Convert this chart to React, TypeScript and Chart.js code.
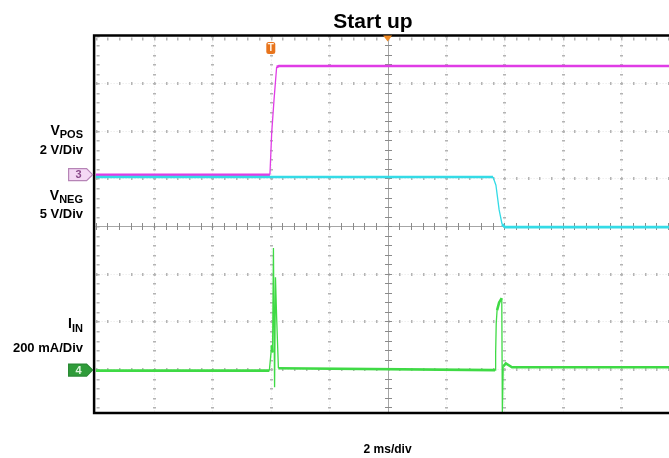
import { useEffect, useRef } from 'react';
import { Chart, registerables } from 'chart.js';

Chart.register(...registerables);

// ---------- data (x in ms from screen centre, y in graticule divisions from centre) ----------
const vposTimeMs = [-10, -4.03, -3.97, -3.89, -3.8, -3.72, 10];
const vposDiv = [1.08, 1.08, 1.95, 2.65, 3.34, 3.36, 3.36];

const vnegTimeMs = [-10, 3.61, 3.71, 3.82, 3.92, 4.02, 10];
const vnegDiv = [1.03, 1.03, 0.86, 0.34, 0.04, -0.02, -0.02];

const iinTimeMs = [
  -10, -4.05, -3.97, -3.94, -3.91, -3.87, -3.84, -3.8, -3.74, 3.68, 3.7, 3.72, 3.75, 3.82, 3.91, 3.93,
  3.96, 4.05, 4.26, 10,
];
const iinDiv = [
  -3.03, -3.03, -2.5, -2.65, -0.46, -3.38, -1.07, -1.91, -2.98, -3.02, -2.67, -2.04, -1.76, -1.6, -1.51,
  -3.93, -2.94, -2.88, -2.96, -2.96,
];

// channel reference levels (divisions) and trigger time (ms)
const ch3LevelDiv = 1.08;
const ch4LevelDiv = -3.02;
const triggerMs = -4.0;

// graticule
const xGridMs = [-8, -6, -4, -2, 0, 2, 4, 6, 8];
const yGridDiv = [-3, -2, -1, 0, 1, 2, 3];
const xSubStepMs = 0.4;
const ySubStepDiv = 0.2;

const FONT = "'Liberation Sans', Arial, Helvetica, sans-serif";
const MAGENTA = '#e03ce6';
const CYAN = '#34dbe6';
const GREEN = '#3fda45';

const toPoints = (xs: number[], ys: number[]) => xs.map((x, i) => ({ x, y: ys[i] }));

const steepWidth = (ctx: any) => (Math.abs(ctx.p1.y - ctx.p0.y) > 8 ? 1.3 : 2.6);

const graticule = {
  id: 'graticule',
  beforeDatasetsDraw(chart: any) {
    const { ctx, chartArea: a, scales } = chart;
    const x = scales.x;
    const y = scales.y;
    ctx.save();
    // faint dotted grid lines
    ctx.strokeStyle = '#e6e6e6';
    ctx.lineWidth = 1;
    ctx.setLineDash([1, 2]);
    for (const t of xGridMs) {
      if (t === 0) continue;
      const px = Math.round(x.getPixelForValue(t)) + 0.5;
      ctx.beginPath();
      ctx.moveTo(px, a.top);
      ctx.lineTo(px, a.bottom);
      ctx.stroke();
    }
    for (const d of yGridDiv) {
      if (d === 0) continue;
      const py = Math.round(y.getPixelForValue(d)) + 0.5;
      ctx.beginPath();
      ctx.moveTo(a.left, py);
      ctx.lineTo(a.right, py);
      ctx.stroke();
    }
    ctx.setLineDash([]);
    // subdivision marks on grid lines
    ctx.fillStyle = '#b4b4b4';
    const yMinK = Math.ceil(y.min / ySubStepDiv);
    const yMaxK = Math.floor(y.max / ySubStepDiv);
    const xMinK = Math.ceil(x.min / xSubStepMs);
    const xMaxK = Math.floor(x.max / xSubStepMs);
    for (const t of xGridMs) {
      if (t === 0) continue;
      const px = Math.round(x.getPixelForValue(t));
      for (let k = yMinK; k <= yMaxK; k++) {
        const py = Math.round(y.getPixelForValue(k * ySubStepDiv));
        ctx.fillRect(px - 1, py, 3, 1.5);
      }
    }
    for (const d of yGridDiv) {
      if (d === 0) continue;
      const py = Math.round(y.getPixelForValue(d));
      for (let k = xMinK; k <= xMaxK; k++) {
        const px = Math.round(x.getPixelForValue(k * xSubStepMs));
        ctx.fillRect(px, py - 1, 1.5, 3);
      }
    }
    // marks along top edge and left edge
    for (let k = xMinK; k <= xMaxK; k++) {
      const px = Math.round(x.getPixelForValue(k * xSubStepMs));
      ctx.fillRect(px, a.top + 2, 1.5, 3);
    }
    for (let k = yMinK; k <= yMaxK; k++) {
      const py = Math.round(y.getPixelForValue(k * ySubStepDiv));
      ctx.fillRect(a.left + 1, py, 3, 1.5);
    }
    // centre axes
    const cx = Math.round(x.getPixelForValue(0)) + 0.5;
    const cy = Math.round(y.getPixelForValue(0)) + 0.5;
    ctx.strokeStyle = '#a6a6a6';
    ctx.lineWidth = 1;
    ctx.beginPath();
    ctx.moveTo(cx, a.top);
    ctx.lineTo(cx, a.bottom);
    ctx.moveTo(a.left, cy);
    ctx.lineTo(a.right, cy);
    ctx.stroke();
    ctx.strokeStyle = '#8a8a8a';
    ctx.beginPath();
    for (let k = xMinK; k <= xMaxK; k++) {
      const px = Math.round(x.getPixelForValue(k * xSubStepMs)) + 0.5;
      ctx.moveTo(px, cy - 3.5);
      ctx.lineTo(px, cy + 3.5);
    }
    for (let k = yMinK; k <= yMaxK; k++) {
      const py = Math.round(y.getPixelForValue(k * ySubStepDiv)) + 0.5;
      ctx.moveTo(cx - 3.5, py);
      ctx.lineTo(cx + 3.5, py);
    }
    ctx.stroke();
    ctx.restore();
  },
  afterDatasetsDraw(chart: any) {
    const { ctx, chartArea: a, scales } = chart;
    const x = scales.x;
    const y = scales.y;
    ctx.save();
    // frame
    ctx.strokeStyle = '#000';
    ctx.lineWidth = 2.5;
    ctx.beginPath();
    ctx.moveTo(a.right + 20, a.top);
    ctx.lineTo(a.left - 1.5, a.top);
    ctx.lineTo(a.left - 1.5, a.bottom);
    ctx.lineTo(a.right + 20, a.bottom);
    ctx.stroke();

    // trigger position triangle (top centre)
    const cx = x.getPixelForValue(0);
    ctx.fillStyle = '#f08a24';
    ctx.beginPath();
    ctx.moveTo(cx - 4.5, a.top);
    ctx.lineTo(cx + 4.5, a.top);
    ctx.lineTo(cx, a.top + 6);
    ctx.closePath();
    ctx.fill();

    // trigger "T" marker
    const tx = x.getPixelForValue(triggerMs);
    ctx.fillStyle = '#e8741c';
    ctx.beginPath();
    (ctx as any).roundRect(tx - 4.5, a.top + 6.5, 9, 12, 2.5);
    ctx.fill();
    ctx.fillStyle = '#fff3e6';
    ctx.font = `bold 10px ${FONT}`;
    ctx.textAlign = 'center';
    ctx.textBaseline = 'middle';
    ctx.fillText('T', tx, a.top + 13);

    // channel markers
    const drawMarker = (label: string, level: number, fill: string, stroke: string, text: string) => {
      const py = y.getPixelForValue(level);
      const l = a.left - 27;
      const r = a.left - 9;
      const tip = a.left - 3;
      ctx.fillStyle = fill;
      ctx.strokeStyle = stroke;
      ctx.lineWidth = 1.2;
      ctx.beginPath();
      ctx.moveTo(l, py - 6);
      ctx.lineTo(r, py - 6);
      ctx.lineTo(tip, py);
      ctx.lineTo(r, py + 6);
      ctx.lineTo(l, py + 6);
      ctx.closePath();
      ctx.fill();
      ctx.stroke();
      ctx.fillStyle = text;
      ctx.font = `bold 11px ${FONT}`;
      ctx.textAlign = 'center';
      ctx.textBaseline = 'middle';
      ctx.fillText(label, (l + r) / 2 + 1, py + 0.5);
    };
    drawMarker('3', ch3LevelDiv, '#f4d8f4', '#b684b6', '#8a4a8a');
    drawMarker('4', ch4LevelDiv, '#2f9c3a', '#2a8a34', '#dff7df');
    ctx.restore();
  },
};

const labelBox = (baseline: number, size: number): React.CSSProperties => ({
  position: 'absolute',
  left: 0,
  width: 83,
  textAlign: 'right',
  top: baseline - 0.8465 * size,
  fontSize: size,
  lineHeight: `${size}px`,
  fontWeight: 'bold',
  whiteSpace: 'nowrap',
  color: '#000',
});

const subStyle = (size: number, drop: number): React.CSSProperties => ({
  fontSize: size,
  position: 'relative',
  top: drop,
});

export default function App() {
  const canvasRef = useRef<HTMLCanvasElement | null>(null);

  useEffect(() => {
    const canvas = canvasRef.current;
    if (!canvas) return;
    Chart.defaults.font.family = FONT;
    const chart = new Chart(canvas, {
      type: 'line',
      data: {
        datasets: [
          {
            label: 'VPOS',
            data: toPoints(vposTimeMs, vposDiv),
            borderColor: MAGENTA,
            borderWidth: 2.6,
            pointRadius: 0,
            tension: 0,
            order: 3,
            segment: { borderWidth: steepWidth },
          },
          {
            label: 'VNEG',
            data: toPoints(vnegTimeMs, vnegDiv),
            borderColor: CYAN,
            borderWidth: 2.6,
            pointRadius: 0,
            tension: 0,
            order: 2,
            segment: { borderWidth: steepWidth },
          },
          {
            label: 'IIN',
            data: toPoints(iinTimeMs, iinDiv),
            borderColor: GREEN,
            borderWidth: 2.6,
            pointRadius: 0,
            tension: 0,
            order: 1,
            segment: { borderWidth: steepWidth },
          },
        ],
      },
      options: {
        animation: false,
        responsive: false,
        layout: { padding: 0 },
        plugins: {
          legend: { display: false },
          tooltip: { enabled: false },
          title: {
            display: true,
            text: 'Start up',
            color: '#000',
            font: { family: FONT, size: 21, weight: 'bold' },
            padding: { top: 10, bottom: 0.3 },
          },
        },
        scales: {
          x: {
            type: 'linear',
            min: -10,
            max: 10,
            ticks: { display: false },
            grid: { display: false, drawTicks: false },
            border: { display: false },
            title: {
              display: true,
              text: '2 ms/div',
              color: '#000',
              font: { family: FONT, size: 12, weight: 'bold' },
              padding: { top: 29.8, bottom: 0.8 },
            },
          },
          y: {
            type: 'linear',
            min: -3.92,
            max: 4,
            ticks: { display: false },
            grid: { display: false, drawTicks: false },
            border: { display: false },
            afterFit: (s: any) => {
              s.width = 95.6;
            },
          },
          y2: {
            type: 'linear',
            position: 'right',
            min: 0,
            max: 1,
            ticks: { display: false },
            grid: { display: false, drawTicks: false },
            border: { display: false },
            afterFit: (s: any) => {
              s.width = 66.4;
            },
          },
        },
      } as any,
      plugins: [graticule],
    });
    return () => chart.destroy();
  }, []);

  return (
    <div
      style={{
        position: 'absolute',
        left: 0,
        top: 0,
        width: 669,
        height: 458,
        overflow: 'hidden',
        background: '#fff',
        fontFamily: FONT,
      }}
    >
      <canvas ref={canvasRef} width={746} height={458} style={{ position: 'absolute', left: 0, top: 0, width: 746, height: 458 }} />
      <div style={labelBox(135, 14)}>
        V<span style={subStyle(11, 3)}>POS</span>
      </div>
      <div style={labelBox(154, 13)}>2 V/Div</div>
      <div style={labelBox(200, 14)}>
        V<span style={subStyle(11, 3)}>NEG</span>
      </div>
      <div style={labelBox(218, 13)}>5 V/Div</div>
      <div style={labelBox(328, 14)}>
        I<span style={subStyle(11, 4)}>IN</span>
      </div>
      <div style={labelBox(352, 13)}>200 mA/Div</div>
    </div>
  );
}
